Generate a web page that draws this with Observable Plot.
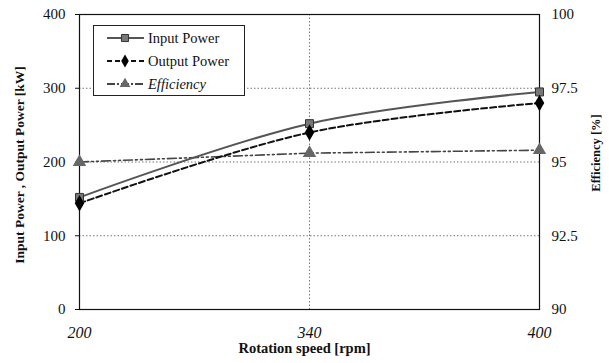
<!DOCTYPE html>
<html><head><meta charset="utf-8">
<script src="https://cdn.jsdelivr.net/npm/d3@7"></script>
<script src="https://cdn.jsdelivr.net/npm/@observablehq/plot@0.6"></script>
<style>
body{margin:0;background:#fff;}
#wrap{position:relative;width:609px;height:363px;font-family:"Liberation Serif",serif;}
#legend{position:absolute;left:93px;top:25px;width:152px;height:71px;border:1px solid #222;background:#fff;box-sizing:border-box;}
</style></head><body>
<div id="wrap"><div id="chart"></div><div id="legend"></div></div>
<script>
const speeds = ["200", "340", "400"];
const inputPower = [152, 252, 295];
const outputPower = [144, 240, 280];
const efficiency = [95.0, 95.3, 95.4];
const leftTicks = [0, 100, 200, 300, 400];
const rightTicks = [90, 92.5, 95, 97.5, 100];
const seriesNames = ["Input Power", "Output Power", "Efficiency"];

const toLeft = e => (e - 90) * 40;
const rows = speeds.map((s, i) => ({s, inp: inputPower[i], out: outputPower[i], eff: toLeft(efficiency[i])}));
const font = "Liberation Serif, serif";

const chart = Plot.plot({
  width: 609, height: 363,
  marginLeft: 79, marginRight: 70, marginTop: 14, marginBottom: 54,
  style: {fontFamily: font, fontSize: "14px", color: "#111", background: "#fff"},
  x: {type: "point", domain: speeds, padding: 0},
  y: {domain: [0, 400]},
  marks: [
    Plot.ruleY([100, 200, 300], {stroke: "#777", strokeDasharray: "1.5,2", strokeWidth: 1}),
    Plot.ruleX(["340"], {stroke: "#777", strokeDasharray: "1.5,2", strokeWidth: 1}),
    Plot.frame({stroke: "#111", strokeWidth: 1.2}),
    Plot.axisY({ticks: leftTicks, tickSize: 4, tickPadding: 10, label: null, fontSize: 15}),
    Plot.axisY({anchor: "right", ticks: leftTicks, tickSize: 0, tickPadding: 12, label: null, fontSize: 15,
      tickFormat: d => String(rightTicks[leftTicks.indexOf(d)])}),
    Plot.axisX({tickSize: 0, tickPadding: 17, label: null, fontSize: 16, fontStyle: "italic"}),
    Plot.text(["Input Power , Output Power [kW]"], {frameAnchor: "left", textAnchor: "middle", dx: -60, dy: 3, rotate: -90, fontWeight: "bold", fontSize: 13.5}),
    Plot.text(["Efficiency [%]"], {frameAnchor: "right", textAnchor: "middle", dx: 56, dy: -9, rotate: -90, fontWeight: "bold", fontSize: 12.5}),
    Plot.text(["Rotation speed [rpm]"], {frameAnchor: "bottom", dx: -5, dy: 43, fontWeight: "bold", fontSize: 14.5}),
    Plot.line(rows, {x: "s", y: "eff", stroke: "#444", strokeWidth: 1.6, strokeDasharray: "9,3,2,3,2,3"}),
    Plot.line(rows, {x: "s", y: "inp", stroke: "#555", strokeWidth: 2, curve: "catmull-rom"}),
    Plot.line(rows, {x: "s", y: "out", stroke: "#111", strokeWidth: 2, strokeDasharray: "6,3", curve: "catmull-rom"}),
    Plot.dot(rows, {x: "s", y: "eff", symbol: "triangle", fill: "#666", r: 5}),
    Plot.dot(rows, {x: "s", y: "inp", symbol: "square", fill: "#777", stroke: "#333", strokeWidth: 1, r: 4.5}),
    Plot.dot(rows, {x: "s", y: "out", symbol: "diamond", fill: "#000", r: 5})
  ]
});
document.getElementById("chart").appendChild(chart);

// legend
const styles = [
  {stroke: "#555", dash: null, sym: d3.symbolSquare, fill: "#777"},
  {stroke: "#111", dash: "5,3", sym: d3.symbolDiamond, fill: "#000"},
  {stroke: "#444", dash: "8,2,2,2", sym: d3.symbolTriangle, fill: "#666"}
];
const lg = d3.select("#legend").append("svg").attr("width", 150).attr("height", 69);
seriesNames.forEach((name, i) => {
  const y = 12 + i * 23;
  const st = styles[i];
  lg.append("line").attr("x1", 13).attr("x2", 50).attr("y1", y).attr("y2", y)
    .attr("stroke", st.stroke).attr("stroke-width", 2).attr("stroke-dasharray", st.dash);
  lg.append("path").attr("transform", `translate(31,${y})`)
    .attr("d", d3.symbol(st.sym, 50)())
    .attr("fill", st.fill).attr("stroke", i === 0 ? "#333" : "none");
  lg.append("text").attr("x", 54).attr("y", y + 5).text(name)
    .attr("font-family", font).attr("font-size", 14.5).attr("fill", "#111")
    .attr("font-style", i === 2 ? "italic" : "normal");
});
</script>
</body></html>
